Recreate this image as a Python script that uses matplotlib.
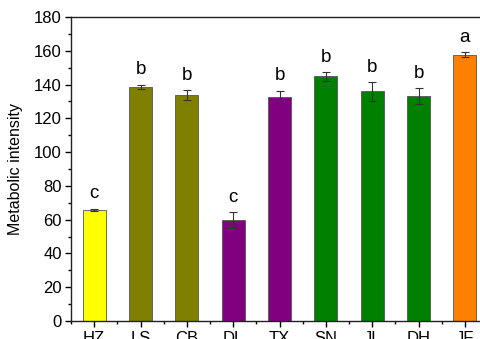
import matplotlib
matplotlib.use("Agg")
import matplotlib.pyplot as plt
from matplotlib.ticker import MultipleLocator

categories = ["HZ", "LS", "CB", "DL", "TX", "SN", "JL", "DH", "JF"]
values = [65.7, 138.8, 133.8, 59.6, 132.6, 144.8, 135.9, 133.1, 157.6]
errors = [0.5, 1.2, 2.8, 4.7, 3.7, 2.4, 5.4, 4.6, 1.4]
letters = ["c", "b", "b", "c", "b", "b", "b", "b", "a"]
colors = ["#FFFF00", "#808000", "#808000", "#800080", "#800080",
          "#008000", "#008000", "#008000", "#FF8000"]

plt.rcParams['font.family'] = ['Liberation Sans', 'DejaVu Sans']

fig = plt.figure(figsize=(4.8, 3.39), dpi=100)
ax = fig.add_axes([71/480, 18/339, (488-71)/480, (321-17)/339])

x = list(range(len(categories)))
ax.bar(x, values, width=0.5, color=colors, edgecolor="#555555", linewidth=0.6,
       yerr=errors, error_kw=dict(ecolor="#333333", elinewidth=0.8, capsize=3, capthick=0.8))

for xi, v, e, l in zip(x, values, errors, letters):
    ax.text(xi, v + e + 4.0, l, ha="center", va="bottom", fontsize=13.5)

ax.set_xlim(-0.5, 8.5)
ax.set_ylim(0, 180)
ax.yaxis.set_major_locator(MultipleLocator(20))
ax.yaxis.set_minor_locator(MultipleLocator(10))
ax.set_xticks(x)
ax.set_xticklabels(categories)
ax.set_xticks([i + 0.5 for i in range(-1, 9)], minor=True)
ax.tick_params(axis="both", which="major", direction="out", length=4.5, width=1, labelsize=12)
ax.tick_params(axis="both", which="minor", direction="out", length=2.5, width=1)
ax.tick_params(axis="x", pad=3)
ax.tick_params(axis="y", pad=2)
ax.set_ylabel("Metabolic intensity", fontsize=11.5, labelpad=8)
for s in ax.spines.values():
    s.set_linewidth(1.0)
    s.set_color("#222222")

fig.savefig("out.png", dpi=100)
